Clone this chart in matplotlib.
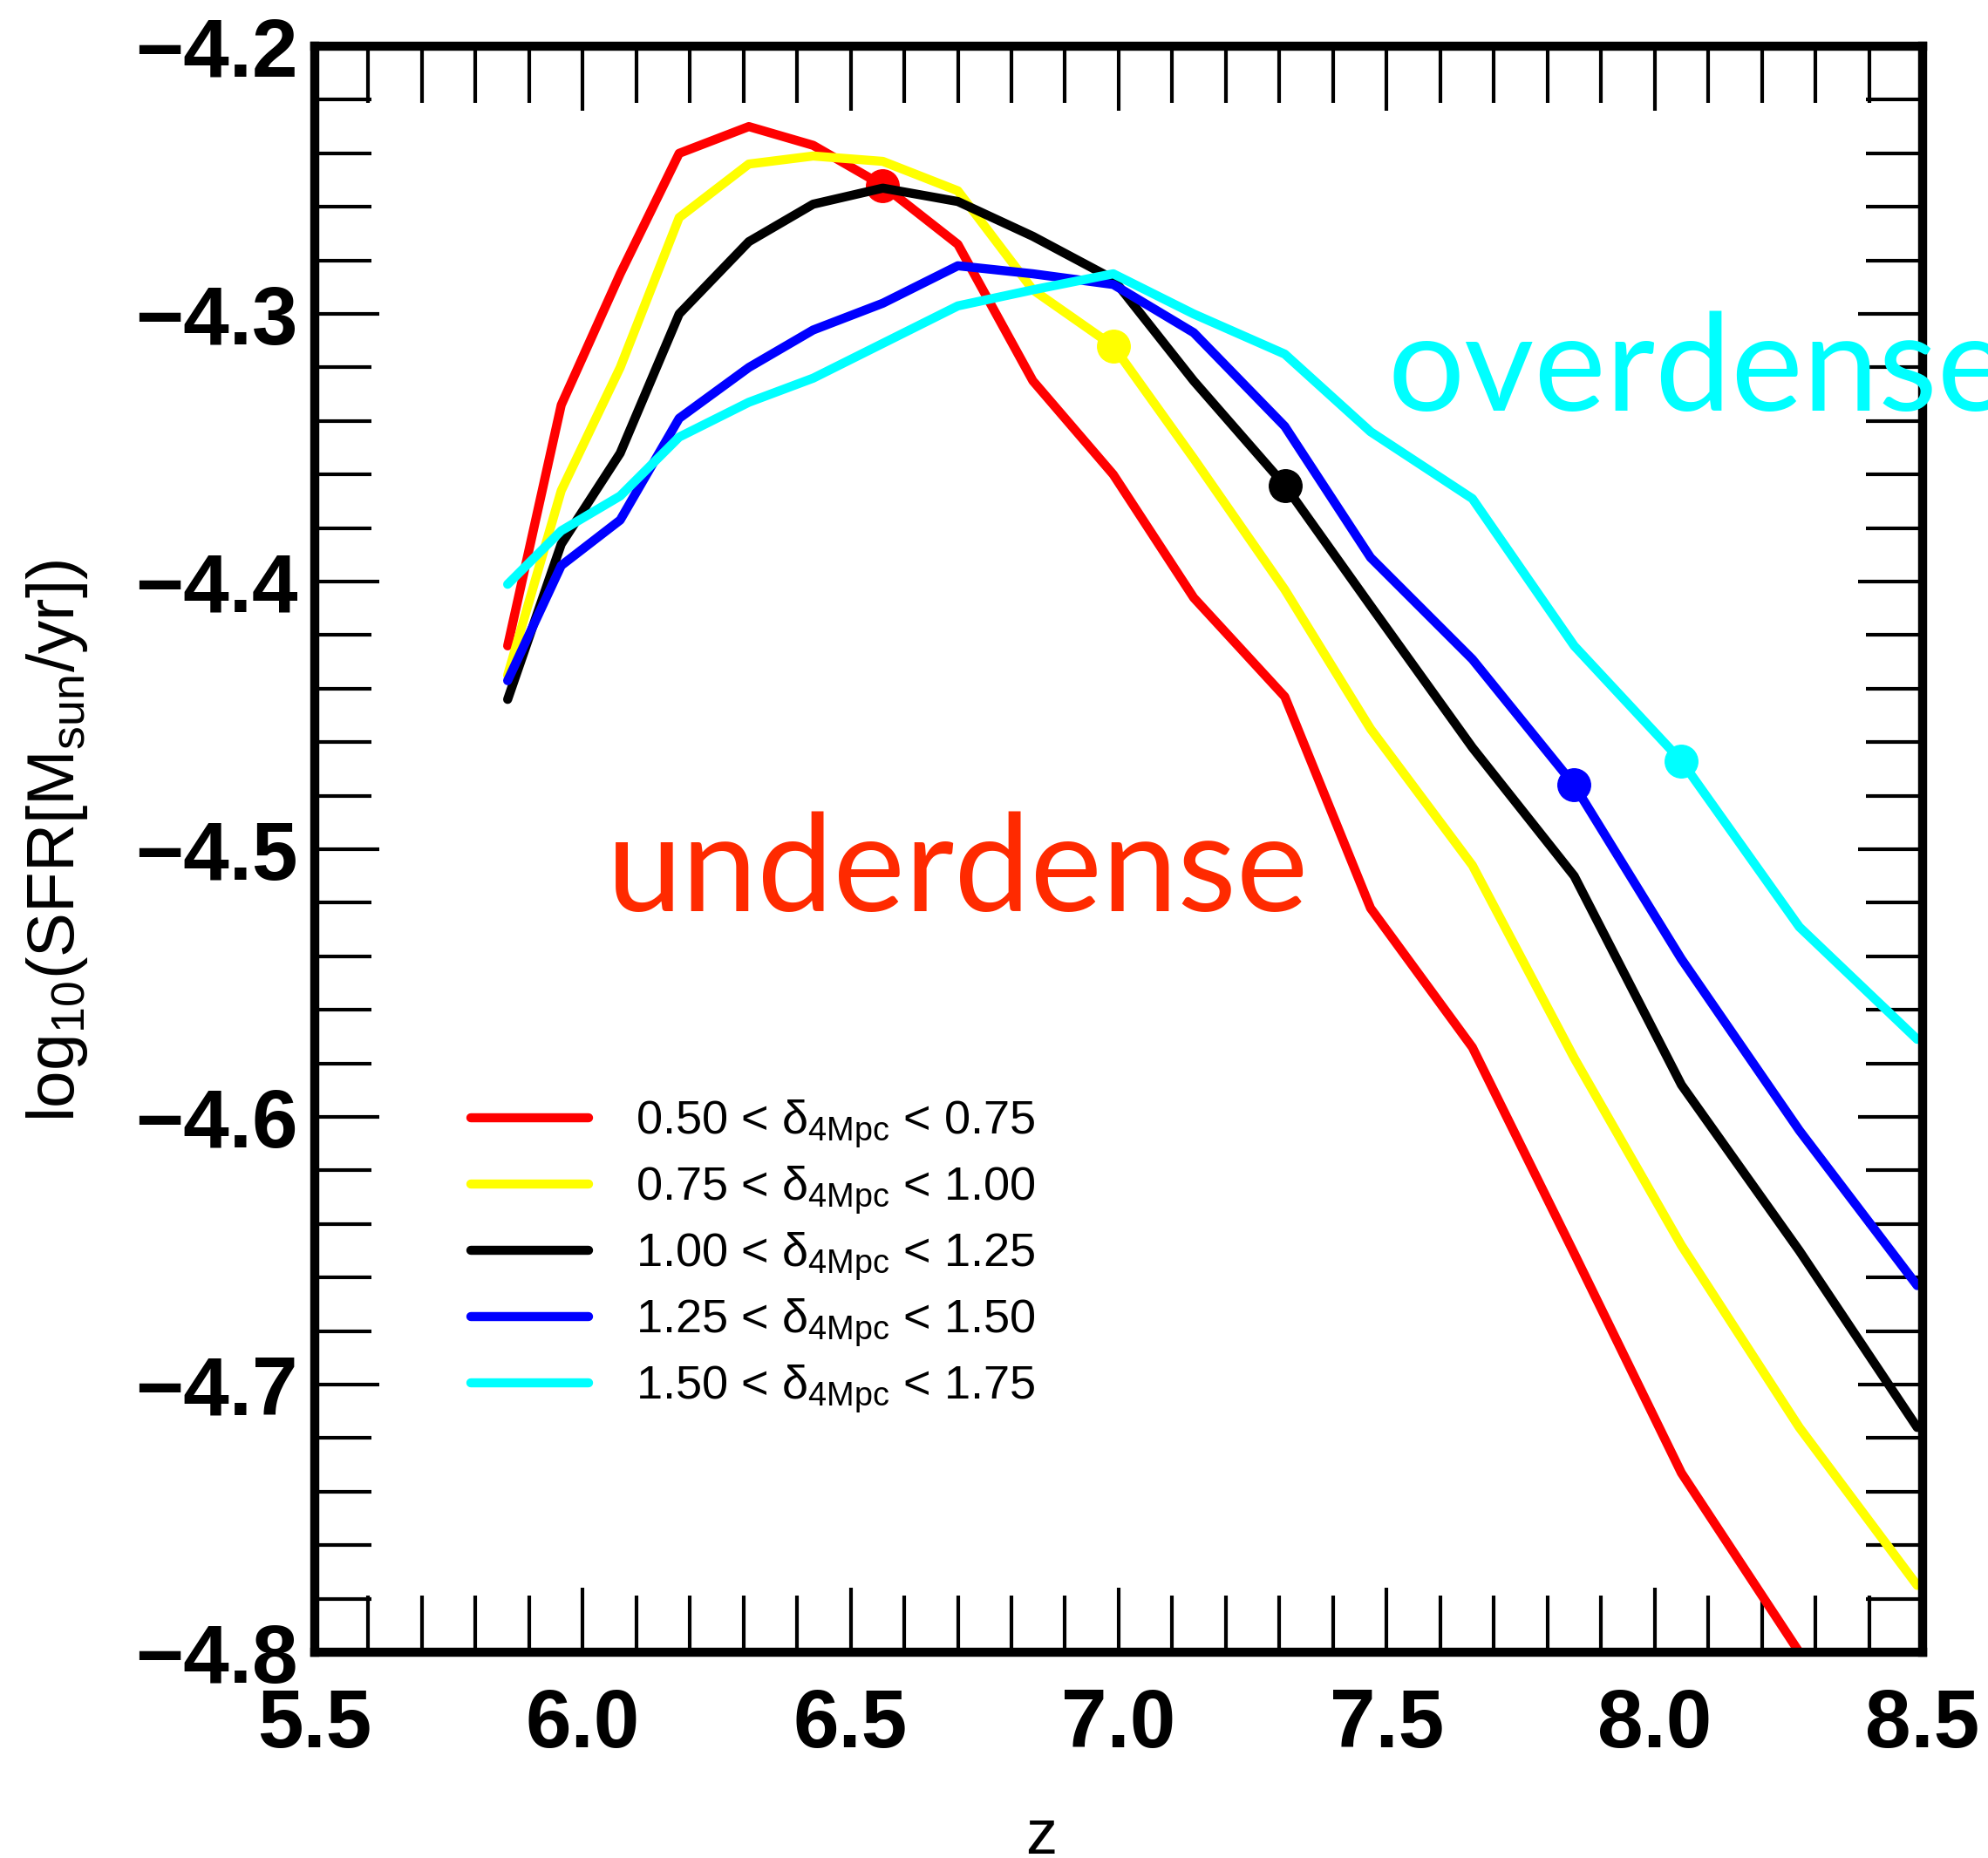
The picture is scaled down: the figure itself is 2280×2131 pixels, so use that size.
import matplotlib
matplotlib.use("Agg")
import matplotlib.pyplot as plt
from matplotlib.ticker import MultipleLocator

plt.rcParams['font.family'] = ['Liberation Sans', 'DejaVu Sans']
plt.rcParams['mathtext.fontset'] = 'custom'
plt.rcParams['mathtext.rm'] = 'Liberation Sans'

# redshift snapshots
z = [5.86, 5.96, 6.07, 6.18, 6.31, 6.43, 6.56, 6.70, 6.84, 6.99,
     7.14, 7.31, 7.47, 7.66, 7.85, 8.05, 8.27, 8.49]

# log10 SFR per density bin
sfr_050_075 = [-4.424, -4.334, -4.285, -4.240, -4.230, -4.237, -4.252, -4.274, -4.325,
               -4.360, -4.406, -4.443, -4.522, -4.574, -4.651, -4.733, -4.800, -4.870]
sfr_075_100 = [-4.435, -4.366, -4.320, -4.264, -4.244, -4.241, -4.243, -4.254, -4.291,
               -4.312, -4.354, -4.403, -4.455, -4.506, -4.578, -4.648, -4.716, -4.775]
sfr_100_125 = [-4.444, -4.386, -4.352, -4.300, -4.273, -4.259, -4.253, -4.258, -4.271,
               -4.287, -4.325, -4.364, -4.409, -4.462, -4.510, -4.588, -4.650, -4.716]
sfr_125_150 = [-4.437, -4.394, -4.377, -4.339, -4.320, -4.306, -4.296, -4.282, -4.285,
               -4.289, -4.307, -4.342, -4.391, -4.429, -4.476, -4.541, -4.605, -4.663]
sfr_150_175 = [-4.401, -4.381, -4.368, -4.346, -4.333, -4.324, -4.311, -4.297, -4.291,
               -4.285, -4.300, -4.315, -4.344, -4.369, -4.424, -4.467, -4.529, -4.571]

series = [sfr_050_075, sfr_075_100, sfr_100_125, sfr_125_150, sfr_150_175]
labels = [r'0.50 < $\mathregular{δ_{4Mpc}}$ < 0.75',
          r'0.75 < $\mathregular{δ_{4Mpc}}$ < 1.00',
          r'1.00 < $\mathregular{δ_{4Mpc}}$ < 1.25',
          r'1.25 < $\mathregular{δ_{4Mpc}}$ < 1.50',
          r'1.50 < $\mathregular{δ_{4Mpc}}$ < 1.75']
colors = ['#ff0000', '#ffff00', '#000000', '#0000ff', '#00ffff']
# snapshot marked with a dot on each curve
dot_index = [6, 9, 11, 14, 15]

xticks = [5.5, 6.0, 6.5, 7.0, 7.5, 8.0, 8.5]
xtick_labels = ['5.5', '6.0', '6.5', '7.0', '7.5', '8.0', '8.5']
yticks = [-4.8, -4.7, -4.6, -4.5, -4.4, -4.3, -4.2]
ytick_labels = ['\u22124.8', '\u22124.7', '\u22124.6', '\u22124.5', '\u22124.4', '\u22124.3', '\u22124.2']

fig = plt.figure(figsize=(22.8, 21.31), dpi=100)
ax = fig.add_axes([0.1583, 0.1107, 0.8088, 0.8644])

handles = []
for y, c, lab, i in zip(series, colors, labels, dot_index):
    ln, = ax.plot(z, y, color=c, lw=7.5, solid_capstyle='round', label=lab)
    ax.plot(z[i], y[i], 'o', color=c, ms=27)
    handles.append(ln)

ax.set_xlim(5.5, 8.5)
ax.set_ylim(-4.8, -4.2)
ax.set_xticks(xticks, labels=xtick_labels)
ax.set_yticks(yticks, labels=ytick_labels)
ax.xaxis.set_minor_locator(MultipleLocator(0.1))
ax.yaxis.set_minor_locator(MultipleLocator(0.02))
ax.tick_params(which='both', direction='in', top=True, right=True, width=3)
ax.tick_params(which='major', length=53, labelsize=68)
ax.tick_params(which='minor', length=47)
ax.tick_params(axis='x', pad=29)
ax.tick_params(axis='y', pad=14)
for lab in ax.get_xticklabels() + ax.get_yticklabels():
    lab.set_fontweight('bold')
for sp in ax.spines.values():
    sp.set_linewidth(7.5)

ax.set_xlabel('z', fontsize=52)
ax.xaxis.set_label_coords(0.452, -0.097)
ax.set_ylabel(r'log$_{\mathregular{10}}$(SFR[M$_{\mathregular{sun}}$/yr])', fontsize=55)
ax.yaxis.set_label_coords(-0.14, 0.505)

ax.legend(handles=handles, loc='upper left', bbox_to_anchor=(0.097, 0.345),
          frameon=False, fontsize=39, handlelength=2.5, handletextpad=1.0,
          labelspacing=0.3, borderpad=0, borderaxespad=0)

ax.text(6.045, -4.523, 'underdense', color='#ff2a00', fontsize=112,
        family='Lato', ha='left', va='baseline')
ax.text(7.502, -4.336, 'overdense', color='#00ffff', fontsize=112,
        family='Lato', ha='left', va='baseline', clip_on=False)

fig.savefig('out.png', dpi=100)
